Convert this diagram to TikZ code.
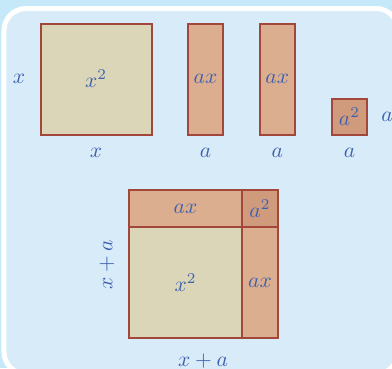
\documentclass[tikz,border=0pt]{standalone}
\definecolor{outercyan}{RGB}{198,233,250}
\definecolor{innerblue}{RGB}{216,235,248}
\definecolor{edgered}{RGB}{163,70,60}
\definecolor{sqfill}{RGB}{220,214,185}
\definecolor{axfill}{RGB}{219,174,143}
\definecolor{aafill}{RGB}{208,155,125}
\definecolor{txtblue}{RGB}{62,96,176}
\tikzset{
  lbl/.style={text=txtblue, inner sep=0pt, scale=2.15},
  piece/.style={draw=edgered, line width=2pt, rectangle, inner sep=0pt},
  sqpiece/.style={piece, fill=sqfill},
  axpiece/.style={piece, fill=axfill},
  aapiece/.style={piece, fill=aafill},
}
\begin{document}
\begin{tikzpicture}[x=1pt,y=-1pt]
\useasboundingbox (0,0) rectangle (392,368);
\clip (0,0) rectangle (392,368);
\fill[outercyan] (0,0) rectangle (392,368);
\draw[white, line width=5pt, fill=innerblue, rounded corners=22pt] (4,8.5) rectangle (398,374);
% top row
\node[sqpiece, minimum width=111pt, minimum height=111pt] (sq) at (96,79) {};
\node[axpiece, minimum width=35.5pt, minimum height=111pt] (axa) at (205.5,79) {};
\node[axpiece, minimum width=35.5pt, minimum height=111pt] (axb) at (277.3,79) {};
\node[aapiece, minimum width=35.5pt, minimum height=35.5pt] (aa) at (349.5,117) {};
\node[lbl] (tsq) at (sq) {$x^2$};
\node[lbl] (taxa) at (axa) {$ax$};
\node[lbl] (taxb) at (axb) {$ax$};
\node[lbl] (taa) at (aa) {$a^2$};
\node[lbl] (lx) at (19,79) {$x$};
\node[lbl] (bx) at (96,153) {$x$};
\node[lbl] (ba1) at (205.5,153) {$a$};
\node[lbl] (ba2) at (277.3,153) {$a$};
\node[lbl] (ba3) at (349.5,153) {$a$};
\node[lbl] (ra) at (387,117) {$a$};
% bottom composite square
\node[sqpiece, minimum width=112.4pt, minimum height=111.3pt] (bsq) at (185.5,282.7) {};
\node[axpiece, minimum width=112.4pt, minimum height=36.7pt] (bax1) at (185.5,208.7) {};
\node[aapiece, minimum width=36.6pt, minimum height=36.7pt] (baa) at (260,208.7) {};
\node[axpiece, minimum width=36.6pt, minimum height=111.3pt] (bax2) at (260,282.7) {};
\node[lbl] (tbsq) at (bsq) {$x^2$};
\node[lbl] (tbax1) at (bax1) {$ax$};
\node[lbl] (tbaa) at (baa) {$a^2$};
\node[lbl] (tbax2) at (bax2) {$ax$};
\node[lbl, rotate=90] (lxa) at (107,265) {$x+a$};
\node[lbl] (bxa) at (203,361) {$x+a$};
\end{tikzpicture}
\end{document}
